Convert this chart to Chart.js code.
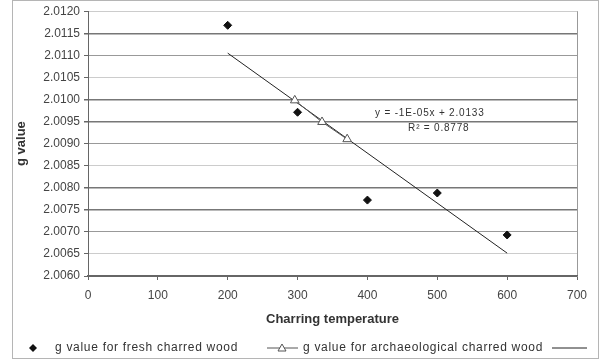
<!DOCTYPE html>
<html>
<head>
<meta charset="utf-8">
<script src="https://cdn.jsdelivr.net/npm/chart.js@4/dist/chart.umd.min.js"></script>
<style>
  html, body { margin: 0; padding: 0; background: #fff; }
  #wrap { width: 602px; height: 363px; }
</style>
</head>
<body>
<div id="wrap"><canvas id="gChart" width="602" height="363"></canvas></div>
<script>
const freshTemps = [200, 300, 400, 500, 600];
const freshG = [2.01168, 2.00971, 2.00772, 2.00788, 2.00693];
const archTemps = [296, 335, 371];
const archG = [2.00998, 2.00949, 2.00910];
const xTicks = [0, 100, 200, 300, 400, 500, 600, 700];
const yTicks = [2.0060, 2.0065, 2.0070, 2.0075, 2.0080, 2.0085, 2.0090,
  2.0095, 2.0100, 2.0105, 2.0110, 2.0115, 2.0120];
const trendLabel = ['y = -1E-05x + 2.0133', 'R\u00b2 = 0.8778'];

// scanned gridlines come out uneven, mimic that
const gridShade = ['#666', '#ccc', '#999', '#777', '#777', '#ccc', '#999',
  '#777', '#777', '#ccc', '#999', '#777', '#ccc'];

const FONT = 'Liberation Sans, Arial, sans-serif';

// least squares line through the fresh samples
function trendline(xs, ys) {
  const n = xs.length;
  const mx = xs.reduce((a, b) => a + b, 0) / n;
  const my = ys.reduce((a, b) => a + b, 0) / n;
  let sxy = 0, sxx = 0;
  xs.forEach((x, i) => { sxy += (x - mx) * (ys[i] - my); sxx += (x - mx) * (x - mx); });
  const slope = sxy / sxx;
  const icpt = my - slope * mx;
  const x0 = Math.min(...xs), x1 = Math.max(...xs);
  return [{ x: x0, y: icpt + slope * x0 }, { x: x1, y: icpt + slope * x1 }];
}

const toPoints = (xs, ys) => xs.map((x, i) => ({ x, y: ys[i] }));

const frame = {
  id: 'frame',
  afterDraw(chart) {
    const ctx = chart.ctx;
    ctx.save();
    ctx.strokeStyle = '#b5b5b5';
    ctx.lineWidth = 1;
    ctx.strokeRect(12.5, 0.5, 586, 358);
    ctx.restore();
  },
};

const eqnLabel = {
  id: 'eqnLabel',
  afterDatasetsDraw(chart) {
    const { ctx, scales } = chart;
    const x = scales.x.getPixelForValue(411);
    const y = scales.y.getPixelForValue(2.00969);
    ctx.save();
    ctx.fillStyle = '#333';
    ctx.font = '10px ' + FONT;
    ctx.letterSpacing = '0.8px';
    ctx.textBaseline = 'middle';
    ctx.fillText(trendLabel[0], x, y);
    ctx.fillText(trendLabel[1], x + 33, y + 15);
    ctx.restore();
  },
};

const bottomLegend = {
  id: 'bottomLegend',
  afterDraw(chart) {
    const ctx = chart.ctx;
    const ds = chart.data.datasets;
    const y = 348;
    ctx.save();
    ctx.font = '12px ' + FONT;
    ctx.letterSpacing = '0.7px';
    ctx.textBaseline = 'middle';
    ctx.fillStyle = '#333';

    // fresh: diamond marker
    ctx.beginPath();
    ctx.moveTo(33, y - 4); ctx.lineTo(37, y); ctx.lineTo(33, y + 4); ctx.lineTo(29, y);
    ctx.closePath();
    ctx.fillStyle = '#111';
    ctx.fill();
    ctx.fillStyle = '#333';
    ctx.fillText(ds[0].label, 55, y);

    // archaeological: line + open triangle
    ctx.strokeStyle = '#555';
    ctx.lineWidth = 1;
    ctx.beginPath(); ctx.moveTo(267, y); ctx.lineTo(298, y); ctx.stroke();
    ctx.beginPath();
    ctx.moveTo(282, y - 4); ctx.lineTo(286, y + 3); ctx.lineTo(278, y + 3);
    ctx.closePath();
    ctx.fillStyle = '#fff';
    ctx.fill();
    ctx.stroke();
    ctx.fillStyle = '#333';
    ctx.fillText(ds[1].label, 303, y);

    // trendline
    ctx.strokeStyle = '#222';
    ctx.beginPath(); ctx.moveTo(552, y); ctx.lineTo(587, y); ctx.stroke();
    ctx.restore();
  },
};

function initChart() {
  const ctx = document.getElementById('gChart');

  new Chart(ctx, {
    type: 'scatter',
    data: {
      datasets: [
        {
          label: 'g value for fresh charred wood',
          data: toPoints(freshTemps, freshG),
          pointStyle: 'rectRot',
          pointRadius: 4,
          backgroundColor: '#111',
          borderColor: '#111',
          showLine: false,
        },
        {
          label: 'g value for archaeological charred wood',
          data: toPoints(archTemps, archG),
          pointStyle: 'triangle',
          pointRadius: 5,
          pointBackgroundColor: '#fff',
          pointBorderColor: '#555',
          borderColor: '#555',
          borderWidth: 1,
          showLine: true,
        },
        {
          label: 'Linear (g value for fresh charred wood)',
          data: trendline(freshTemps, freshG),
          pointRadius: 0,
          borderColor: '#222',
          borderWidth: 1,
          showLine: true,
        },
      ],
    },
    options: {
      responsive: false,
      devicePixelRatio: 1,
      animation: false,
      layout: { padding: { left: 12, right: 25, top: 11, bottom: 33 } },
      plugins: {
        legend: { display: false },
        tooltip: { enabled: false },
      },
      scales: {
        x: {
          type: 'linear',
          min: 0,
          max: 700,
          afterBuildTicks: (s) => { s.ticks = xTicks.map((v) => ({ value: v })); },
          afterFit: (s) => { s.height = 54; },
          ticks: {
            color: '#444',
            font: { family: FONT, size: 12 },
            padding: 8,
          },
          grid: {
            color: (c) => (c.tick && c.tick.value === 700 ? '#999' : 'transparent'),
            tickColor: '#666',
            tickLength: 4,
          },
          border: { color: '#666', width: 1.5 },
          title: {
            display: true,
            text: 'Charring temperature',
            color: '#333',
            font: { family: FONT, size: 13, weight: 'bold' },
            padding: { top: 0, bottom: 3 },
          },
        },
        y: {
          min: 2.006,
          max: 2.012,
          afterBuildTicks: (s) => { s.ticks = yTicks.map((v) => ({ value: v })); },
          afterFit: (s) => { s.width = 76; },
          ticks: {
            color: '#444',
            font: { family: FONT, size: 12 },
            padding: 4,
            callback: (v) => Number(v).toFixed(4),
          },
          grid: {
            color: (c) => gridShade[c.index] || '#999',
            lineWidth: (c) => (gridShade[c.index] === '#777' ? 1.5 : 1),
            tickColor: '#666',
            tickLength: 4,
          },
          border: { color: '#666', width: 1 },
          title: {
            display: true,
            text: 'g value',
            color: '#333',
            font: { family: FONT, size: 13, weight: 'bold' },
            padding: { top: 2, bottom: 0 },
          },
        },
      },
    },
    plugins: [eqnLabel, bottomLegend, frame],
  });
}

window.addEventListener('DOMContentLoaded', () => {
  initChart();
});
</script>
</body>
</html>
